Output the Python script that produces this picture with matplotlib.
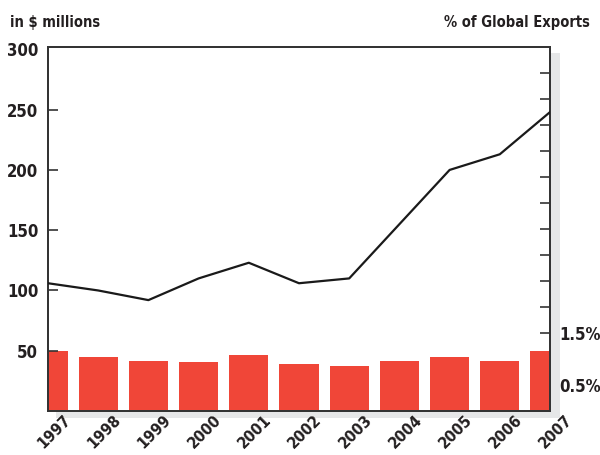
import matplotlib
matplotlib.use("Agg")
import matplotlib.pyplot as plt
from matplotlib.patches import Rectangle
import matplotlib.transforms as mtransforms

plt.rcParams['font.family'] = ['DejaVu Sans']
plt.rcParams['font.stretch'] = 'condensed'
plt.rcParams['font.weight'] = 'bold'

# data
years = [1997, 1998, 1999, 2000, 2001, 2002, 2003, 2004, 2005, 2006, 2007]
exports_musd = [106, 100, 92, 110, 123, 106, 110, 155, 200, 213, 248]
share_pct = [1.15, 1.04, 0.96, 0.94, 1.08, 0.90, 0.87, 0.96, 1.04, 0.96, 1.15]
left_ticks = [50, 100, 150, 200, 250]
right_ticks = [0.5, 1.0, 1.5, 2.0, 2.5, 3.0, 3.5, 4.0, 4.5, 5.0, 5.5, 6.0, 6.5]
right_labels = {0.5: '0.5%', 1.5: '1.5%'}

fig = plt.figure(figsize=(6, 4.55), dpi=100)
W, H = 600, 455
L, R, T, B = 48, 550, 47, 411
ax2 = fig.add_axes([L / W, 1 - B / H, (R - L) / W, (B - T) / H])
ax = ax2.twinx()
ax.yaxis.tick_left()

# drop shadow behind the frame
fig.patches.append(Rectangle((56 / W, 1 - 418 / H), (560 - 56) / W, (418 - 53) / H,
                             transform=fig.transFigure, facecolor='#e6e7e8',
                             edgecolor='none', zorder=-5))

ax2.patch.set_visible(True)
ax2.patch.set_facecolor('white')
ax.patch.set_visible(False)
ax.set_zorder(ax2.get_zorder() + 1)

ax2.bar(years, share_pct, width=0.78, color='#f04638', zorder=2)
ax.plot(years, exports_musd, color='#1a1a1a', lw=1.6, zorder=3)

ax.set_xlim(1997, 2007)
ax.set_ylim(0, 302)
ax2.set_ylim(0, 7.0)

ax.set_yticks(left_ticks)
ax.set_yticklabels([str(v) for v in left_ticks])
ax.set_yticks([300], minor=True)
ax.set_yticklabels(['300'], minor=True)
ax.tick_params(axis='y', which='both', direction='in', length=7, width=1.2, color='#333333',
               labelsize=12, pad=7, labelcolor='#231f20', left=True, right=False,
               labelleft=True, labelright=False)
ax.tick_params(axis='y', which='minor', length=0)

ax2.yaxis.tick_right()
ax2.set_yticks(right_ticks)
ax2.set_yticklabels([right_labels.get(v, '') for v in right_ticks])
ax2.tick_params(axis='y', direction='in', length=7, width=1.2, color='#333333',
                labelsize=12, pad=7, labelcolor='#231f20')

ax2.set_xticks(years)
ax2.set_xticklabels([str(y) for y in years])
ax2.tick_params(axis='x', length=0, labelsize=11.5, pad=1, labelcolor='#231f20')
offset = mtransforms.ScaledTranslation(15 / 100, 0, fig.dpi_scale_trans)
for lbl in ax2.get_xticklabels():
    lbl.set_rotation(45)
    lbl.set_ha('right')
    lbl.set_va('top')
    lbl.set_rotation_mode('anchor')
    lbl.set_transform(lbl.get_transform() + offset)
ax.tick_params(axis='x', length=0, labelbottom=False)

for a in (ax, ax2):
    for s in a.spines.values():
        s.set_color('#333333')
        s.set_linewidth(1.3)

fig.text(10 / W, 1 - 22 / H, 'in $ millions', fontsize=10.5, color='#231f20',
         ha='left', va='center')
fig.text(590 / W, 1 - 22 / H, '% of Global Exports', fontsize=10.5, color='#231f20',
         ha='right', va='center')

fig.savefig('out.png', dpi=100)
